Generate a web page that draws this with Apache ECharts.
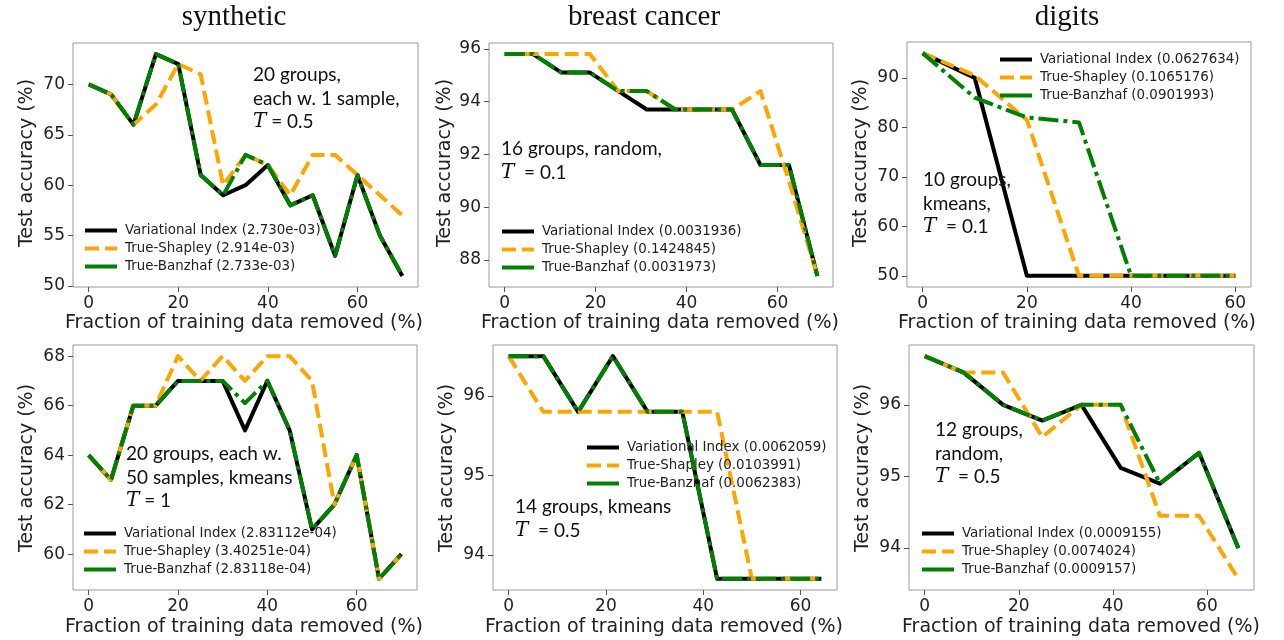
<!DOCTYPE html>
<html><head><meta charset="utf-8">
<script src="https://cdn.jsdelivr.net/npm/echarts@6/dist/echarts.min.js"></script>
<style>html,body{margin:0;padding:0;background:#fff}#c{width:1284px;height:640px}</style>
</head><body><div id="c"></div>
<script>
// ---------------- data ----------------
const panelTitles = ['synthetic', 'breast cancer', 'digits'];
const methodNames = ['Variational Index', 'True-Shapley', 'True-Banzhaf'];
const xTicks = [0, 20, 40, 60];

// panel 1: synthetic, 20 groups each w. 1 sample
const synX = [0, 5, 10, 15, 20, 25, 30, 35, 40, 45, 50, 55, 60, 65, 70];
const synVI = [70, 69, 66, 73, 72, 61, 59, 60, 62, 58, 59, 53, 61, 55, 51];
const synShap = [70, 69, 66, 68, 72, 71, 60, 63, 62, 59, 63, 63, 61, 59, 57];
const synBanz = [70, 69, 66, 73, 72, 61, 59, 63, 62, 58, 59, 53, 61, 55, 51];
const synScores = ['2.730e-03', '2.914e-03', '2.733e-03'];
const synYTicks = [50, 55, 60, 65, 70];

// panel 2: breast cancer, 16 groups random
const bcX = [0, 6.25, 12.5, 18.75, 25, 31.25, 37.5, 43.75, 50, 56.25, 62.5, 68.75];
const bcVI = [95.8, 95.8, 95.1, 95.1, 94.4, 93.7, 93.7, 93.7, 93.7, 91.6, 91.6, 87.4];
const bcShap = [95.8, 95.8, 95.8, 95.8, 94.4, 94.4, 93.7, 93.7, 93.7, 94.4, 91.0, 87.4];
const bcBanz = [95.8, 95.8, 95.1, 95.1, 94.4, 94.4, 93.7, 93.7, 93.7, 91.6, 91.6, 87.4];
const bcScores = ['0.0031936', '0.1424845', '0.0031973'];
const bcYTicks = [88, 90, 92, 94, 96];

// panel 3: digits, 10 groups kmeans
const dgX = [0, 10, 20, 30, 40, 50, 60];
const dgVI = [95, 90, 50, 50, 50, 50, 50];
const dgShap = [95, 90.5, 81.5, 50, 50, 50, 50];
const dgBanz = [95, 86, 82, 81, 50, 50, 50];
const dgScores = ['0.0627634', '0.1065176', '0.0901993'];
const dgYTicks = [50, 60, 70, 80, 90];

// panel 4: synthetic, 20 groups each w. 50 samples kmeans
const syn2X = [0, 5, 10, 15, 20, 25, 30, 35, 40, 45, 50, 55, 60, 65, 70];
const syn2VI = [64, 63, 66, 66, 67, 67, 67, 65, 67, 65, 61, 62, 64, 59, 60];
const syn2Shap = [64, 63, 66, 66, 68, 67, 68, 67, 68, 68, 67, 62, 64, 59, 60];
const syn2Banz = [64, 63, 66, 66, 67, 67, 67, 66.1, 67, 65, 61, 62, 64, 59, 60];
const syn2Scores = ['2.83112e-04', '3.40251e-04', '2.83118e-04'];
const syn2YTicks = [60, 62, 64, 66, 68];

// panel 5: breast cancer, 14 groups kmeans
const bc2X = [0, 7.14, 14.29, 21.43, 28.57, 35.71, 42.86, 50, 57.14, 64.29];
const bc2VI = [96.5, 96.5, 95.8, 96.5, 95.8, 95.8, 93.7, 93.7, 93.7, 93.7];
const bc2Shap = [96.5, 95.8, 95.8, 95.8, 95.8, 95.8, 95.8, 93.7, 93.7, 93.7];
const bc2Banz = [96.5, 96.5, 95.8, 96.5, 95.8, 95.8, 93.7, 93.7, 93.7, 93.7];
const bc2Scores = ['0.0062059', '0.0103991', '0.0062383'];
const bc2YTicks = [94, 95, 96];

// panel 6: digits, 12 groups random
const dg2X = [0, 8.33, 16.67, 25, 33.33, 41.67, 50, 58.33, 66.67];
const dg2VI = [96.68, 96.45, 96.0, 95.78, 96.0, 95.12, 94.9, 95.33, 94.0];
const dg2Shap = [96.68, 96.45, 96.45, 95.55, 96.0, 96.0, 94.45, 94.45, 93.57];
const dg2Banz = [96.68, 96.45, 96.0, 95.78, 96.0, 96.0, 94.9, 95.33, 94.0];
const dg2Scores = ['0.0009155', '0.0074024', '0.0009157'];
const dg2YTicks = [94, 95, 96];

// annotation texts
const notes = [
  ['20 groups,', 'each w. 1 sample,', '{t|T} = 0.5'],
  ['16 groups, random,', '{t|T}  = 0.1'],
  ['10 groups,', 'kmeans,', '{t|T}  = 0.1'],
  ['20 groups, each w.', '50 samples, kmeans', '{t|T} = 1'],
  ['14 groups, kmeans', '{t|T}  = 0.5'],
  ['12 groups,', 'random,', '{t|T}  = 0.5']
];

// ---------------- layout / style ----------------
const panels = [
  {x: synX, ys: [synVI, synShap, synBanz], sc: synScores, yt: synYTicks},
  {x: bcX, ys: [bcVI, bcShap, bcBanz], sc: bcScores, yt: bcYTicks},
  {x: dgX, ys: [dgVI, dgShap, dgBanz], sc: dgScores, yt: dgYTicks},
  {x: syn2X, ys: [syn2VI, syn2Shap, syn2Banz], sc: syn2Scores, yt: syn2YTicks},
  {x: bc2X, ys: [bc2VI, bc2Shap, bc2Banz], sc: bc2Scores, yt: bc2YTicks},
  {x: dg2X, ys: [dg2VI, dg2Shap, dg2Banz], sc: dg2Scores, yt: dg2YTicks}
];
const gridRects = [
  {left: 73, top: 43, width: 345, height: 244},
  {left: 489, top: 43, width: 344, height: 244},
  {left: 907, top: 42, width: 344, height: 245},
  {left: 73, top: 345, width: 344, height: 245},
  {left: 493, top: 345, width: 344, height: 245},
  {left: 909, top: 345, width: 345, height: 245}
];
const legendPos = [
  {left: 83, top: 224}, {left: 500, top: 225}, {left: 998, top: 53},
  {left: 82, top: 527}, {left: 585, top: 441}, {left: 920, top: 527}
];
const notePos = [
  {x: 253, y: 75}, {x: 501, y: 149}, {x: 923, y: 180},
  {x: 126, y: 454}, {x: 515, y: 507}, {x: 935, y: 430}
];
const yNamePos = [
  {x: 27, y: 163}, {x: 445, y: 163}, {x: 861, y: 163},
  {x: 27, y: 468}, {x: 447, y: 468}, {x: 863, y: 468}
];
const xNamePos = [
  {x: 244, y: 323}, {x: 660, y: 323}, {x: 1077, y: 323},
  {x: 244, y: 627}, {x: 664, y: 627}, {x: 1081, y: 627}
];
const titlePos = [{x: 234, y: 17}, {x: 644, y: 17}, {x: 1067, y: 17}];

const colors = ['#000000', '#FFA500', '#008000'];
const dashes = ['solid', [14, 6], [20, 5, 4, 5]];
const legendDashes = ['solid', [14, 6], 'solid'];
const LW = 4;

function range(arr, m) {
  const lo = Math.min(...arr), hi = Math.max(...arr);
  const pad = (hi - lo) * m;
  return [lo - pad, hi + pad];
}

const grid = [], xAxis = [], yAxis = [], series = [], legend = [], graphic = [];
panels.forEach((p, i) => {
  grid.push(Object.assign({show: true, borderColor: '#9a9a9a', borderWidth: 1, backgroundColor: 'transparent'}, gridRects[i]));
  const xr = range(p.x, 0.05);
  const allY = [].concat(...p.ys);
  const yr = range(allY, 0.05);
  xAxis.push({
    type: 'value', gridIndex: i, min: xr[0], max: xr[1], position: 'bottom',
    axisLine: {show: false, onZero: false},
    splitLine: {show: false},
    axisTick: {show: true, inside: false, length: 5, customValues: xTicks, lineStyle: {color: '#555', width: 1}},
    axisLabel: {customValues: xTicks, margin: 8, fontFamily: 'DejaVu Sans', fontSize: 17, color: '#222'}
  });
  yAxis.push({
    type: 'value', gridIndex: i, min: yr[0], max: yr[1], position: 'left',
    axisLine: {show: false, onZero: false},
    splitLine: {show: false},
    axisTick: {show: true, inside: false, length: 5, customValues: p.yt, lineStyle: {color: '#555', width: 1}},
    axisLabel: {customValues: p.yt, margin: 8, fontFamily: 'DejaVu Sans', fontSize: 17, color: '#222'}
  });
  const names = methodNames.map((n, k) => n + ' (' + p.sc[k] + ')');
  p.ys.forEach((ys, k) => {
    series.push({
      type: 'line', name: names[k], xAxisIndex: i, yAxisIndex: i,
      data: p.x.map((xv, j) => [xv, ys[j]]),
      symbol: 'none', animation: false, z: 2 + k,
      lineStyle: {color: colors[k], width: LW, type: dashes[k], join: 'round'},
      itemStyle: {color: colors[k]}
    });
  });
  legend.push({
    left: legendPos[i].left, top: legendPos[i].top, orient: 'vertical',
    itemWidth: 32, itemHeight: 14, itemGap: 5, padding: 0, selectedMode: false,
    data: names.map((n, k) => ({name: n, lineStyle: {width: LW, type: legendDashes[k], color: colors[k]}})),
    lineStyle: {width: LW},
    itemStyle: {color: 'rgba(0,0,0,0)', borderColor: 'rgba(0,0,0,0)', borderWidth: 0},
    textStyle: {fontFamily: 'DejaVu Sans', fontSize: 13.4, color: '#222', padding: [0, 0, 0, 3]}
  });
  // annotations
  notes[i].forEach((line, k) => {
    graphic.push({
      type: 'text', x: notePos[i].x, y: notePos[i].y + k * 23.5, z: 50,
      style: {
        text: line, fontFamily: 'Lato', fontSize: 19, fill: '#111',
        align: 'left', verticalAlign: 'middle',
        rich: {t: {fontFamily: 'DejaVu Serif', fontStyle: 'italic', fontSize: 20, fill: '#111'}}
      }
    });
  });
  graphic.push({
    type: 'text', x: yNamePos[i].x, y: yNamePos[i].y, rotation: Math.PI / 2, z: 50,
    style: {text: 'Test accuracy (%)', fontFamily: 'DejaVu Sans', fontSize: 19, fill: '#222', align: 'center', verticalAlign: 'middle'}
  });
  graphic.push({
    type: 'text', x: xNamePos[i].x, y: xNamePos[i].y, z: 50,
    style: {text: 'Fraction of training data removed (%)', fontFamily: 'DejaVu Sans', fontSize: 19, fill: '#222', align: 'center', verticalAlign: 'middle'}
  });
});
panelTitles.forEach((t, i) => {
  graphic.push({
    type: 'text', x: titlePos[i].x, y: titlePos[i].y, z: 50,
    style: {text: t, fontFamily: 'Liberation Serif', fontSize: 29, fill: '#111', align: 'center', verticalAlign: 'middle'}
  });
});

const chart = echarts.init(document.getElementById('c'), null, {renderer: 'canvas'});
chart.setOption({
  backgroundColor: '#ffffff',
  animation: false,
  grid, xAxis, yAxis, series, legend, graphic
});
</script></body></html>
